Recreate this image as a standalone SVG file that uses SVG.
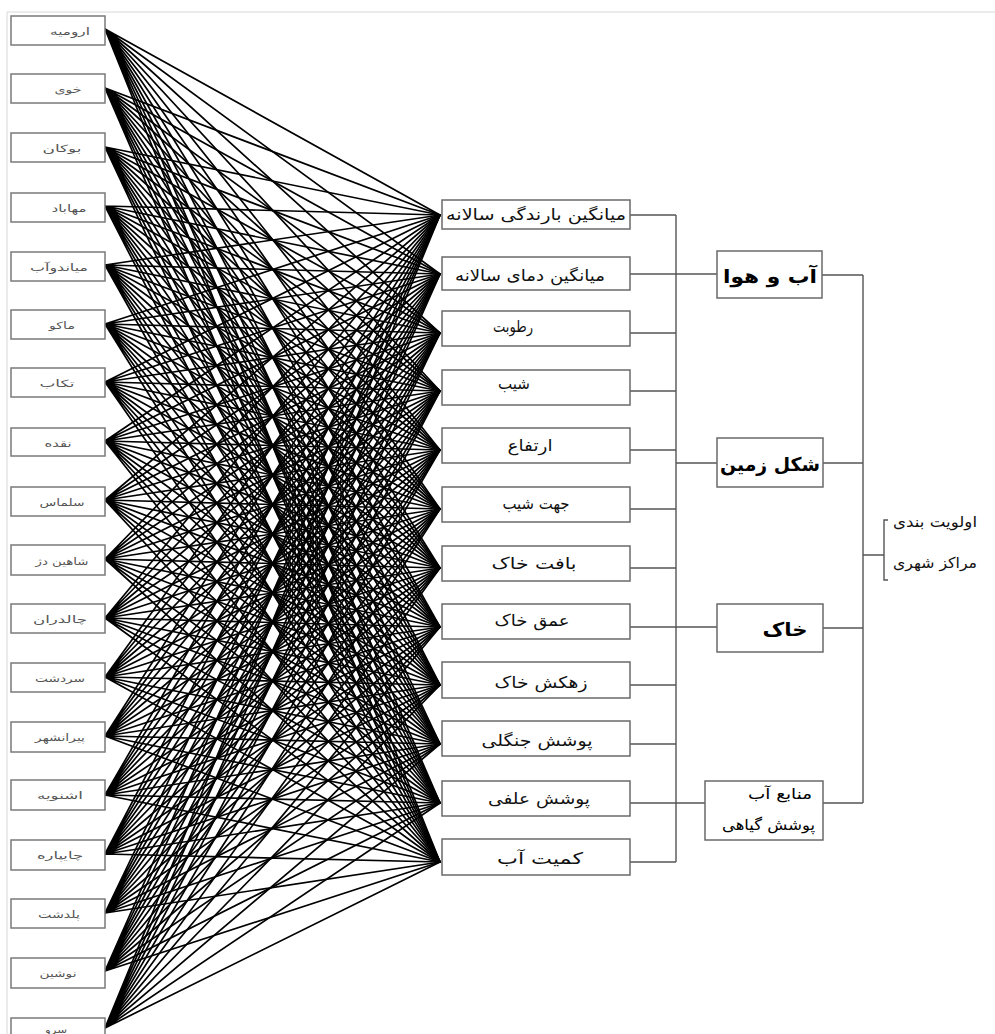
<svg xmlns="http://www.w3.org/2000/svg" width="995" height="1034" viewBox="0 0 995 1034">
<style>
.bg{fill:#fff}
.frame{stroke:#d8d8d8;stroke-width:1;fill:none}
.fan path{stroke:#000;stroke-width:1.7;fill:none;stroke-linecap:round}
.lb rect{fill:#fff;stroke:#7a7a7a;stroke-width:1.5}
.lb text{font-family:"DejaVu Sans",sans-serif;font-size:10px;fill:#555;text-anchor:middle}
.mb rect{fill:#fff;stroke:#6a6a6a;stroke-width:1.5}
.mb text{font-family:"DejaVu Sans",sans-serif;font-size:16px;fill:#111;text-anchor:middle}
.rb rect{fill:#fff;stroke:#6a6a6a;stroke-width:1.5}
.rb text{font-family:"DejaVu Sans",sans-serif;font-size:19px;font-weight:bold;fill:#000;text-anchor:middle}
.rb text.sm{font-size:15px;font-weight:normal;text-anchor:end}
.conn path{stroke:#555;stroke-width:1.4;fill:none}
.goal text{font-family:"DejaVu Sans",sans-serif;font-size:15px;fill:#111;text-anchor:end}
</style>
<rect class="bg" x="0" y="0" width="995" height="1034"/>
<path class="frame" d="M7 1034V12H995"/>
<g class="fan">
<path d="M105 29L440 215M105 29L440 274M105 29L440 333M105 29L440 391M105 29L440 450M105 29L440 509M105 29L440 568M105 29L440 627M105 29L440 685M105 29L440 744M105 29L440 803M105 29L440 862"/>
<path d="M105 88L440 215M105 88L440 274M105 88L440 333M105 88L440 391M105 88L440 450M105 88L440 509M105 88L440 568M105 88L440 627M105 88L440 685M105 88L440 744M105 88L440 803M105 88L440 862"/>
<path d="M105 147L440 215M105 147L440 274M105 147L440 333M105 147L440 391M105 147L440 450M105 147L440 509M105 147L440 568M105 147L440 627M105 147L440 685M105 147L440 744M105 147L440 803M105 147L440 862"/>
<path d="M105 206L440 215M105 206L440 274M105 206L440 333M105 206L440 391M105 206L440 450M105 206L440 509M105 206L440 568M105 206L440 627M105 206L440 685M105 206L440 744M105 206L440 803M105 206L440 862"/>
<path d="M105 265L440 215M105 265L440 274M105 265L440 333M105 265L440 391M105 265L440 450M105 265L440 509M105 265L440 568M105 265L440 627M105 265L440 685M105 265L440 744M105 265L440 803M105 265L440 862"/>
<path d="M105 324L440 215M105 324L440 274M105 324L440 333M105 324L440 391M105 324L440 450M105 324L440 509M105 324L440 568M105 324L440 627M105 324L440 685M105 324L440 744M105 324L440 803M105 324L440 862"/>
<path d="M105 382L440 215M105 382L440 274M105 382L440 333M105 382L440 391M105 382L440 450M105 382L440 509M105 382L440 568M105 382L440 627M105 382L440 685M105 382L440 744M105 382L440 803M105 382L440 862"/>
<path d="M105 441L440 215M105 441L440 274M105 441L440 333M105 441L440 391M105 441L440 450M105 441L440 509M105 441L440 568M105 441L440 627M105 441L440 685M105 441L440 744M105 441L440 803M105 441L440 862"/>
<path d="M105 500L440 215M105 500L440 274M105 500L440 333M105 500L440 391M105 500L440 450M105 500L440 509M105 500L440 568M105 500L440 627M105 500L440 685M105 500L440 744M105 500L440 803M105 500L440 862"/>
<path d="M105 559L440 215M105 559L440 274M105 559L440 333M105 559L440 391M105 559L440 450M105 559L440 509M105 559L440 568M105 559L440 627M105 559L440 685M105 559L440 744M105 559L440 803M105 559L440 862"/>
<path d="M105 618L440 215M105 618L440 274M105 618L440 333M105 618L440 391M105 618L440 450M105 618L440 509M105 618L440 568M105 618L440 627M105 618L440 685M105 618L440 744M105 618L440 803M105 618L440 862"/>
<path d="M105 677L440 215M105 677L440 274M105 677L440 333M105 677L440 391M105 677L440 450M105 677L440 509M105 677L440 568M105 677L440 627M105 677L440 685M105 677L440 744M105 677L440 803M105 677L440 862"/>
<path d="M105 736L440 215M105 736L440 274M105 736L440 333M105 736L440 391M105 736L440 450M105 736L440 509M105 736L440 568M105 736L440 627M105 736L440 685M105 736L440 744M105 736L440 803M105 736L440 862"/>
<path d="M105 795L440 215M105 795L440 274M105 795L440 333M105 795L440 391M105 795L440 450M105 795L440 509M105 795L440 568M105 795L440 627M105 795L440 685M105 795L440 744M105 795L440 803M105 795L440 862"/>
<path d="M105 854L440 215M105 854L440 274M105 854L440 333M105 854L440 391M105 854L440 450M105 854L440 509M105 854L440 568M105 854L440 627M105 854L440 685M105 854L440 744M105 854L440 803M105 854L440 862"/>
<path d="M105 913L440 215M105 913L440 274M105 913L440 333M105 913L440 391M105 913L440 450M105 913L440 509M105 913L440 568M105 913L440 627M105 913L440 685M105 913L440 744M105 913L440 803M105 913L440 862"/>
<path d="M105 971L440 215M105 971L440 274M105 971L440 333M105 971L440 391M105 971L440 450M105 971L440 509M105 971L440 568M105 971L440 627M105 971L440 685M105 971L440 744M105 971L440 803M105 971L440 862"/>
<path d="M105 1028L440 215M105 1028L440 274M105 1028L440 333M105 1028L440 391M105 1028L440 450M105 1028L440 509M105 1028L440 568M105 1028L440 627M105 1028L440 685M105 1028L440 744M105 1028L440 803M105 1028L440 862"/>
</g>
<g class="conn">
<path d="M630 215H676M630 274H717M630 333H676M630 391H676M630 450H676M630 509H676M630 568H676M630 627H717M630 685H676M630 744H676M630 803H705M630 862H676"/>
<path d="M676 215V862"/>
<path d="M676 463H717"/>
<path d="M822 275H863M823 463H863M823 628H863M823 803H863M863 275V803M863 555H884"/>
<path d="M888 520H884V580H888"/>
</g>
<g class="lb" id="left-nodes">
<g id="n-urmia"><rect x="11" y="16" width="94" height="29"/><text x="70" y="35" textLength="40" lengthAdjust="spacingAndGlyphs">ارومیه</text></g>
<g id="n-khoy"><rect x="11" y="74" width="94" height="29"/><text x="68" y="93" textLength="27" lengthAdjust="spacingAndGlyphs">خوی</text></g>
<g id="n-bukan"><rect x="11" y="133" width="94" height="29"/><text x="62" y="152" textLength="39" lengthAdjust="spacingAndGlyphs">بوکان</text></g>
<g id="n-mahabad"><rect x="11" y="193" width="94" height="29"/><text x="69" y="212" textLength="35" lengthAdjust="spacingAndGlyphs">مهاباد</text></g>
<g id="n-miandoab"><rect x="11" y="252" width="94" height="29"/><text x="59" y="271" textLength="58" lengthAdjust="spacingAndGlyphs">میاندوآب</text></g>
<g id="n-maku"><rect x="11" y="310" width="94" height="29"/><text x="62" y="329" textLength="26" lengthAdjust="spacingAndGlyphs">ماکو</text></g>
<g id="n-takab"><rect x="11" y="368" width="94" height="29"/><text x="57" y="387" textLength="35" lengthAdjust="spacingAndGlyphs">تکاب</text></g>
<g id="n-naqadeh"><rect x="11" y="428" width="94" height="28"/><text x="58" y="447" textLength="27" lengthAdjust="spacingAndGlyphs">نقده</text></g>
<g id="n-salmas"><rect x="11" y="487" width="94" height="29"/><text x="62" y="506" textLength="45" lengthAdjust="spacingAndGlyphs">سلماس</text></g>
<g id="n-shahindezh"><rect x="11" y="545" width="94" height="30"/><text x="62" y="565" textLength="53" lengthAdjust="spacingAndGlyphs">شاهین دژ</text></g>
<g id="n-chaldoran"><rect x="11" y="604" width="94" height="29"/><text x="60" y="623" textLength="54" lengthAdjust="spacingAndGlyphs">چالدران</text></g>
<g id="n-sardasht"><rect x="11" y="663" width="94" height="29"/><text x="60" y="682" textLength="50" lengthAdjust="spacingAndGlyphs">سردشت</text></g>
<g id="n-piranshahr"><rect x="11" y="722" width="94" height="30"/><text x="60" y="741" textLength="50" lengthAdjust="spacingAndGlyphs">پیرانشهر</text></g>
<g id="n-oshnavieh"><rect x="11" y="780" width="94" height="30"/><text x="60" y="799" textLength="46" lengthAdjust="spacingAndGlyphs">اشنویه</text></g>
<g id="n-chaypareh"><rect x="11" y="840" width="94" height="30"/><text x="60" y="859" textLength="46" lengthAdjust="spacingAndGlyphs">چایپاره</text></g>
<g id="n-poldasht"><rect x="11" y="899" width="94" height="29"/><text x="59" y="918" textLength="42" lengthAdjust="spacingAndGlyphs">پلدشت</text></g>
<g id="n-nushin"><rect x="11" y="958" width="94" height="30"/><text x="58" y="977" textLength="37" lengthAdjust="spacingAndGlyphs">نوشین</text></g>
<g id="n-serow"><rect x="11" y="1018" width="94" height="29"/><text x="56" y="1033" textLength="22" lengthAdjust="spacingAndGlyphs">سرو</text></g>
</g>
<g class="mb" id="criteria">
<g id="c-rain"><rect x="442" y="200" width="188" height="29"/><text x="536" y="220" textLength="180" lengthAdjust="spacingAndGlyphs">میانگین بارندگی سالانه</text></g>
<g id="c-temp"><rect x="442" y="257" width="188" height="33"/><text x="530" y="281" textLength="150" lengthAdjust="spacingAndGlyphs">میانگین دمای سالانه</text></g>
<g id="c-humid"><rect x="442" y="311" width="188" height="35"/><text x="513" y="332" textLength="40" lengthAdjust="spacingAndGlyphs">رطوبت</text></g>
<g id="c-slope"><rect x="442" y="370" width="188" height="35"/><text x="514" y="389" textLength="32" lengthAdjust="spacingAndGlyphs">شیب</text></g>
<g id="c-elev"><rect x="442" y="428" width="188" height="35"/><text x="530" y="451" textLength="45" lengthAdjust="spacingAndGlyphs">ارتفاع</text></g>
<g id="c-aspect"><rect x="442" y="487" width="188" height="35"/><text x="536" y="509" textLength="67" lengthAdjust="spacingAndGlyphs">جهت شیب</text></g>
<g id="c-texture"><rect x="442" y="546" width="188" height="35"/><text x="534" y="569" textLength="85" lengthAdjust="spacingAndGlyphs">بافت خاک</text></g>
<g id="c-depth"><rect x="442" y="604" width="188" height="35"/><text x="532" y="626" textLength="75" lengthAdjust="spacingAndGlyphs">عمق خاک</text></g>
<g id="c-drain"><rect x="442" y="662" width="188" height="36"/><text x="541" y="688" textLength="93" lengthAdjust="spacingAndGlyphs">زهکش خاک</text></g>
<g id="c-forest"><rect x="442" y="721" width="188" height="35"/><text x="537" y="746" textLength="111" lengthAdjust="spacingAndGlyphs">پوشش جنگلی</text></g>
<g id="c-grass"><rect x="442" y="781" width="188" height="35"/><text x="539" y="804" textLength="102" lengthAdjust="spacingAndGlyphs">پوشش علفی</text></g>
<g id="c-water"><rect x="442" y="839" width="188" height="36"/><text x="540" y="864" textLength="86" lengthAdjust="spacingAndGlyphs">کمیت آب</text></g>
</g>
<g class="rb" id="groups">
<g id="g-climate"><rect x="717" y="251" width="105" height="47"/><text x="770" y="283" textLength="94" lengthAdjust="spacingAndGlyphs">آب و هوا</text></g>
<g id="g-landform"><rect x="717" y="438" width="106" height="49"/><text x="770" y="471" textLength="100" lengthAdjust="spacingAndGlyphs">شکل زمین</text></g>
<g id="g-soil"><rect x="717" y="604" width="106" height="48"/><text x="785" y="636" textLength="45" lengthAdjust="spacingAndGlyphs">خاک</text></g>
<g id="g-resources"><rect x="705" y="781" width="118" height="59"/><text class="sm" x="812" y="799" textLength="64" lengthAdjust="spacingAndGlyphs">منابع آب</text><text class="sm" x="815" y="830" textLength="93" lengthAdjust="spacingAndGlyphs">پوشش گیاهی</text></g>
</g>
<g class="goal" id="goal">
<text x="977" y="527" textLength="84" lengthAdjust="spacingAndGlyphs">اولویت بندی</text>
<text x="977" y="568" textLength="84" lengthAdjust="spacingAndGlyphs">مراکز شهری</text>
</g>
</svg>
